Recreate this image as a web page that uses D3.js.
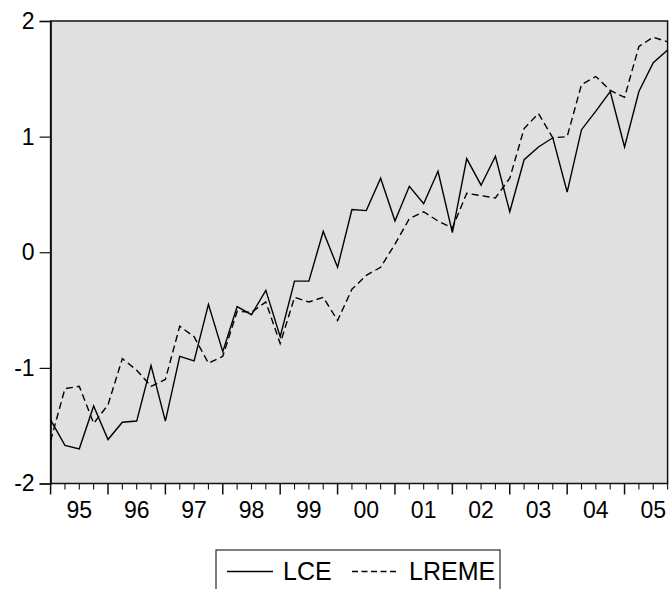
<!DOCTYPE html>
<html>
<head>
<meta charset="utf-8">
<script src="https://cdn.jsdelivr.net/npm/d3@7"></script>
<style>
  body { margin: 0; background: #fff; }
  svg { display: block; }
  text { font-family: Arial, "Liberation Sans", sans-serif; fill: #000; }
</style>
</head>
<body>
<svg id="chart" width="669" height="589"></svg>
<script>
// quarterly observations 1995Q1 - 2005Q4
var years = ["95", "96", "97", "98", "99", "00", "01", "02", "03", "04", "05"];
var quarters = [];
years.forEach(function(y) {
  for (var q = 1; q <= 4; q++) quarters.push(y + "Q" + q);
});

var lce = [-1.45, -1.67, -1.70, -1.33, -1.62, -1.47, -1.46, -0.98,
           -1.46, -0.90, -0.94, -0.45, -0.86, -0.47, -0.54, -0.33,
           -0.73, -0.25, -0.25, 0.18, -0.13, 0.37, 0.36, 0.64,
           0.27, 0.57, 0.42, 0.70, 0.17, 0.81, 0.58, 0.83,
           0.35, 0.80, 0.91, 0.99, 0.52, 1.06, 1.22, 1.39,
           0.91, 1.39, 1.64, 1.75];

var lreme = [-1.63, -1.18, -1.16, -1.48, -1.32, -0.92, -1.02, -1.16,
             -1.10, -0.64, -0.73, -0.96, -0.90, -0.51, -0.52, -0.43,
             -0.79, -0.39, -0.43, -0.39, -0.59, -0.32, -0.20, -0.13,
             0.07, 0.29, 0.35, 0.27, 0.21, 0.51, 0.49, 0.47,
             0.64, 1.07, 1.20, 0.99, 1.00, 1.45, 1.52, 1.40,
             1.34, 1.78, 1.86, 1.82];

var yTicks = [-2, -1, 0, 1, 2];

// plot box (named so they don't clash with window.top)
var plotLeft = 50.6, plotRight = 667.6, plotTop = 21, plotBottom = 483.5;

var svg = d3.select("#chart");

var x = d3.scalePoint().domain(quarters).range([plotLeft, plotRight]);
var step = x.step();
var y = d3.scaleLinear().domain([-2, 2]).range([plotBottom, plotTop]);

// plot area
svg.append("rect")
  .attr("x", plotLeft).attr("y", plotTop)
  .attr("width", plotRight - plotLeft).attr("height", plotBottom - plotTop)
  .attr("fill", "#e0e0e0")
  .attr("stroke", "#111")
  .attr("stroke-width", 1.5);

// y axis
var yAxis = d3.axisLeft(y).tickValues(yTicks).tickSize(11).tickPadding(5)
  .tickFormat(d3.format("d"));
var gy = svg.append("g").attr("transform", "translate(" + plotLeft + ",0)").call(yAxis);
gy.select(".domain").attr("stroke", "#111").attr("stroke-width", 1.5);
gy.selectAll(".tick line").attr("stroke", "#111").attr("stroke-width", 1.2);
gy.selectAll(".tick text").style("font-size", "23px").attr("fill", "#000")
  .style("font-family", "Arial, 'Liberation Sans', sans-serif")
  .text(function(d) { return d < 0 ? "-" + Math.abs(d) : d; });

// x ticks: minor at every quarter, major at Q1
var gx = svg.append("g");
gx.selectAll("line").data(quarters).enter().append("line")
  .attr("x1", function(d) { return x(d); })
  .attr("x2", function(d) { return x(d); })
  .attr("y1", plotBottom)
  .attr("y2", function(d) { return /Q1$/.test(d) ? plotBottom + 11 : plotBottom + 6; })
  .attr("stroke", "#111")
  .attr("stroke-width", function(d) { return /Q1$/.test(d) ? 1.5 : 1.1; });

gx.selectAll("text").data(years).enter().append("text")
  .attr("x", function(d) { return x(d + "Q1") + 2 * step; })
  .attr("y", 518)
  .attr("text-anchor", "middle")
  .style("font-size", "23px")
  .text(function(d) { return d; });

// series lines
var line = d3.line()
  .x(function(d, i) { return x(quarters[i]); })
  .y(function(d) { return y(d); });

svg.append("path").datum(lreme)
  .attr("d", line)
  .attr("fill", "none")
  .attr("stroke", "#000")
  .attr("stroke-width", 1.4)
  .attr("stroke-dasharray", "7,4");

svg.append("path").datum(lce)
  .attr("d", line)
  .attr("fill", "none")
  .attr("stroke", "#000")
  .attr("stroke-width", 1.4);

// legend
var legend = svg.append("g");
legend.append("rect")
  .attr("x", 216).attr("y", 550)
  .attr("width", 284).attr("height", 50)
  .attr("fill", "#fff")
  .attr("stroke", "#000")
  .attr("stroke-width", 1);

legend.append("line")
  .attr("x1", 227).attr("x2", 273).attr("y1", 571.5).attr("y2", 571.5)
  .attr("stroke", "#000").attr("stroke-width", 1.4);
legend.append("text").attr("x", 283).attr("y", 580).style("font-size", "25px").text("LCE");

legend.append("line")
  .attr("x1", 352).attr("x2", 398).attr("y1", 571.5).attr("y2", 571.5)
  .attr("stroke", "#000").attr("stroke-width", 1.4)
  .attr("stroke-dasharray", "6,3.5");
legend.append("text").attr("x", 409).attr("y", 580).style("font-size", "25px").text("LREME");
</script>
</body>
</html>
